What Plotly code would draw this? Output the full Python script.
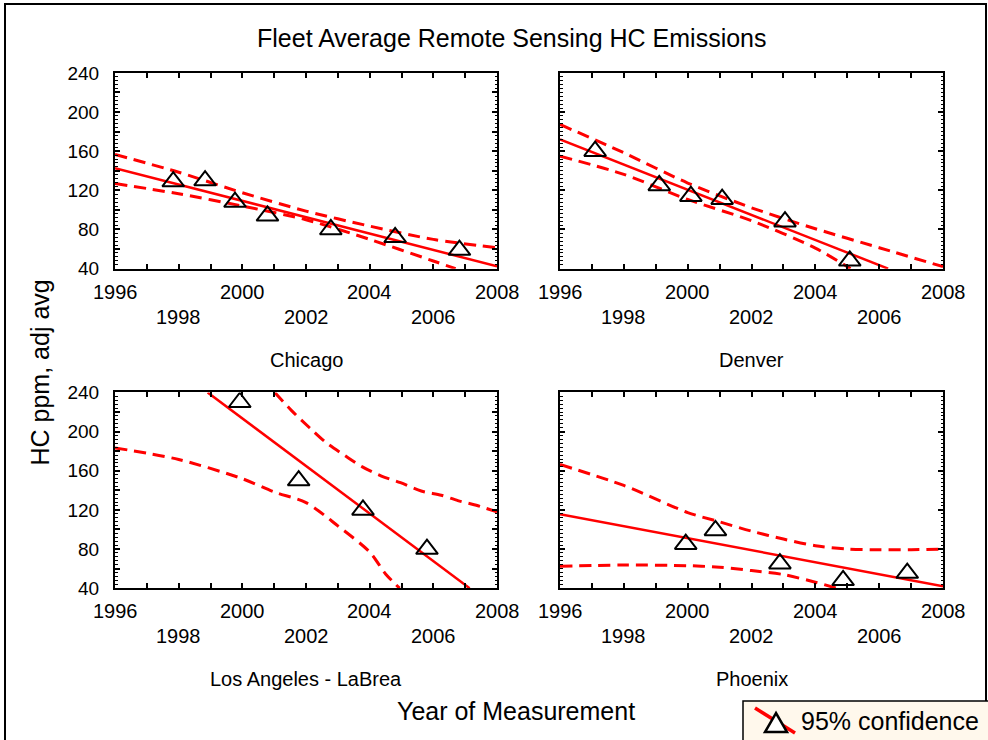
import plotly.graph_objects as go

# ---- Chicago ----
chicago_year = [1997.83, 1998.83, 1999.77, 2000.79, 2002.78, 2004.80, 2006.82]
chicago_hc = [129, 130, 108, 94, 80, 72, 59]
chicago_fit_year = [1996, 2008]
chicago_fit_hc = [142.7, 42.4]
chicago_upper_year = [1996, 1998, 2000, 2002, 2004, 2006, 2008]
chicago_upper_hc = [156.7, 138.5, 117.6, 98.8, 83.5, 69.9, 61.4]
chicago_lower_year = [1996, 1998, 2000, 2002, 2004, 2006, 2006.7]
chicago_lower_hc = [127.0, 116.5, 104.0, 90.0, 69.9, 47.8, 40.0]

# ---- Denver ----
denver_year = [1997.10, 1999.11, 2000.10, 2001.08, 2003.05, 2005.08]
denver_hc = [160, 125, 114, 111, 88, 48]
denver_fit_year = [1996, 2006.28]
denver_fit_hc = [172.0, 40.0]
denver_upper_year = [1996, 1998, 2000, 2002, 2004, 2006, 2008]
denver_upper_hc = [187.3, 158.4, 127.5, 102.2, 80.8, 61.4, 42.0]
denver_lower_year = [1996, 1998, 2000, 2002, 2004, 2005.1]
denver_lower_hc = [155.0, 136.3, 110.7, 89.0, 61.0, 40.0]

# ---- Los Angeles - LaBrea ----
la_year = [1999.92, 2001.77, 2003.79, 2005.80]
la_hc = [230, 150, 120, 80]
la_fit_year = [1998.91, 2007.14]
la_fit_hc = [240.0, 40.0]
la_upper_year = [2001.02, 2001.54, 2002.12, 2002.64, 2003.22, 2003.77, 2004.37,
                 2004.97, 2005.62, 2006.25, 2006.77, 2007.35, 2008.0]
la_upper_hc = [240.0, 221.7, 203.7, 188.5, 175.6, 164.0, 154.6,
               147.8, 139.3, 135.0, 129.5, 124.7, 118.0]
la_lower_year = [1996, 1998, 2000, 2001, 2002, 2003, 2004, 2004.5, 2004.94]
la_lower_hc = [183.4, 171.5, 151.9, 138.3, 127.5, 103.7, 77.0, 54.6, 40.0]

# ---- Phoenix ----
phx_year = [1999.94, 2000.87, 2002.89, 2004.87, 2006.88]
phx_hc = [85, 99, 65, 48, 55.5]
phx_fit_year = [1996, 2008]
phx_fit_hc = [115.6, 42.0]
phx_upper_year = [1996, 1998, 2000, 2001, 2002, 2003, 2004, 2005, 2006, 2007, 2008]
phx_upper_hc = [166.4, 145.0, 117.3, 107.8, 98.3, 90.2, 83.4, 80.0, 79.3, 79.3, 80.0]
phx_lower_year = [1996, 1998, 2000, 2001, 2002, 2003, 2004, 2004.66]
phx_lower_hc = [62.4, 63.7, 63.0, 61.4, 58.0, 53.9, 46.1, 40.0]

panel_names = ["Chicago", "Denver", "Los Angeles - LaBrea", "Phoenix"]
panels = [
    (chicago_year, chicago_hc, chicago_fit_year, chicago_fit_hc,
     chicago_upper_year, chicago_upper_hc, chicago_lower_year, chicago_lower_hc),
    (denver_year, denver_hc, denver_fit_year, denver_fit_hc,
     denver_upper_year, denver_upper_hc, denver_lower_year, denver_lower_hc),
    (la_year, la_hc, la_fit_year, la_fit_hc,
     la_upper_year, la_upper_hc, la_lower_year, la_lower_hc),
    (phx_year, phx_hc, phx_fit_year, phx_fit_hc,
     phx_upper_year, phx_upper_hc, phx_lower_year, phx_lower_hc),
]

x_tick_years = [1996, 1998, 2000, 2002, 2004, 2006, 2008]
y_tick_vals = [40, 60, 80, 100, 120, 140, 160, 180, 200, 220, 240]
y_tick_text = ["40", "", "80", "", "120", "", "160", "", "200", "", "240"]

W, H = 988, 740
FONT = "Liberation Sans, Arial, Helvetica, sans-serif"
RED = "#ff0000"

# the drawable paper area sits between y=10 and y=730 of the page
PAPER_TOP, PAPER_H = 10, 720


def px(x):
    return x / W


def py(y):
    return 1 - (y - PAPER_TOP) / PAPER_H


# plot-area rectangles in pixels: (left, right, top, bottom)
boxes = [(115, 497, 73, 269), (560, 943, 73, 269),
         (115, 497, 393, 589), (560, 943, 393, 589)]

fig = go.Figure()
layout = dict(
    width=W, height=H,
    margin=dict(l=0, r=0, t=0, b=0),
    paper_bgcolor="white", plot_bgcolor="white",
    showlegend=False,
    font=dict(family=FONT, color="black", size=20),
)

annotations = []
for i, (box, data, name) in enumerate(zip(boxes, panels, panel_names)):
    k = "" if i == 0 else str(i + 1)
    xa, ya = "x" + k, "y" + k
    yr, xu, fy, fh, uy, uh, ly, lh = data
    left, right, top, bottom = box

    layout["xaxis" + k] = dict(
        domain=[px(left), px(right)], anchor=ya, range=[1996, 2008],
        tick0=1996, dtick=1, ticks="inside", ticklen=5, tickwidth=1.5,
        tickcolor="black", showline=True, linecolor="black", linewidth=2,
        mirror="ticks", showgrid=False, zeroline=False, showticklabels=False,
    )
    layout["yaxis" + k] = dict(
        domain=[py(bottom), py(top)], anchor=xa, range=[40, 240],
        tickmode="array", tickvals=y_tick_vals, ticktext=y_tick_text,
        ticks="inside", ticklen=5, tickwidth=1.5, tickcolor="black",
        minor=dict(dtick=4, tick0=40, ticks="inside", ticklen=2.5,
                   tickwidth=1, tickcolor="black"),
        showline=True, linecolor="black", linewidth=2, mirror="ticks",
        showgrid=False, zeroline=False,
        showticklabels=(i % 2 == 0), ticklabelstandoff=10,
        tickfont=dict(size=19),
    )

    dash_line = dict(color=RED, width=3, dash="12px,7px")
    fig.add_trace(go.Scatter(x=uy, y=uh, mode="lines", line=dict(shape="spline", smoothing=0.8, **dash_line),
                             xaxis=xa, yaxis=ya))
    fig.add_trace(go.Scatter(x=ly, y=lh, mode="lines", line=dict(shape="spline", smoothing=0.8, **dash_line),
                             xaxis=xa, yaxis=ya))
    fig.add_trace(go.Scatter(x=fy, y=fh, mode="lines", line=dict(color=RED, width=2.5),
                             xaxis=xa, yaxis=ya))
    fig.add_trace(go.Scatter(x=yr, y=xu, mode="markers",
                             marker=dict(symbol="triangle-up-open", size=19, color="black",
                                         line=dict(color="black", width=2)),
                             xaxis=xa, yaxis=ya))

    # staggered year labels under each panel
    for j, yv in enumerate(x_tick_years):
        annotations.append(dict(
            x=yv, y=0, xref=xa, yref=ya + " domain", text=str(yv),
            showarrow=False, xanchor="center", yanchor="middle",
            yshift=-23 if j % 2 == 0 else -48, font=dict(size=20),
        ))
    annotations.append(dict(
        x=0.5, y=0, xref=xa + " domain", yref=ya + " domain", text=name,
        showarrow=False, xanchor="center", yanchor="middle", yshift=-91,
        font=dict(size=20),
    ))

annotations += [
    dict(x=px(512), y=py(38), xref="paper", yref="paper",
         text="Fleet Average Remote Sensing HC Emissions", showarrow=False,
         xanchor="center", yanchor="middle", font=dict(size=25)),
    dict(x=px(516), y=py(712), xref="paper", yref="paper",
         text="Year of Measurement", showarrow=False,
         xanchor="center", yanchor="middle", font=dict(size=25)),
    dict(x=px(40), y=py(373), xref="paper", yref="paper",
         text="HC ppm, adj avg", showarrow=False, textangle=-90,
         xanchor="center", yanchor="middle", font=dict(size=25)),
    dict(x=px(799), y=py(722), xref="paper", yref="paper",
         text="95% confidence", showarrow=False,
         xanchor="left", yanchor="middle", font=dict(size=25)),
]
layout["annotations"] = annotations

tri = "M {:.5f},{:.5f} L {:.5f},{:.5f} L {:.5f},{:.5f} Z".format(
    px(776), py(714), px(765), py(733), px(787), py(733))
layout["shapes"] = [
    # outer frame
    dict(type="rect", xref="paper", yref="paper", x0=px(5), x1=px(986), y0=py(4), y1=py(780),
         line=dict(color="black", width=2)),
    # legend box
    dict(type="rect", xref="paper", yref="paper", x0=px(743), x1=px(1000), y0=py(702), y1=py(760),
         line=dict(color="black", width=1.5), fillcolor="#fff8ec"),
    dict(type="line", xref="paper", yref="paper", x0=px(755), y0=py(709), x1=px(795), y1=py(734),
         line=dict(color=RED, width=3.5)),
    dict(type="path", xref="paper", yref="paper", path=tri, fillcolor="white",
         line=dict(color="black", width=2.5)),
]

fig.update_layout(**layout)
fig.write_html("out.html")
